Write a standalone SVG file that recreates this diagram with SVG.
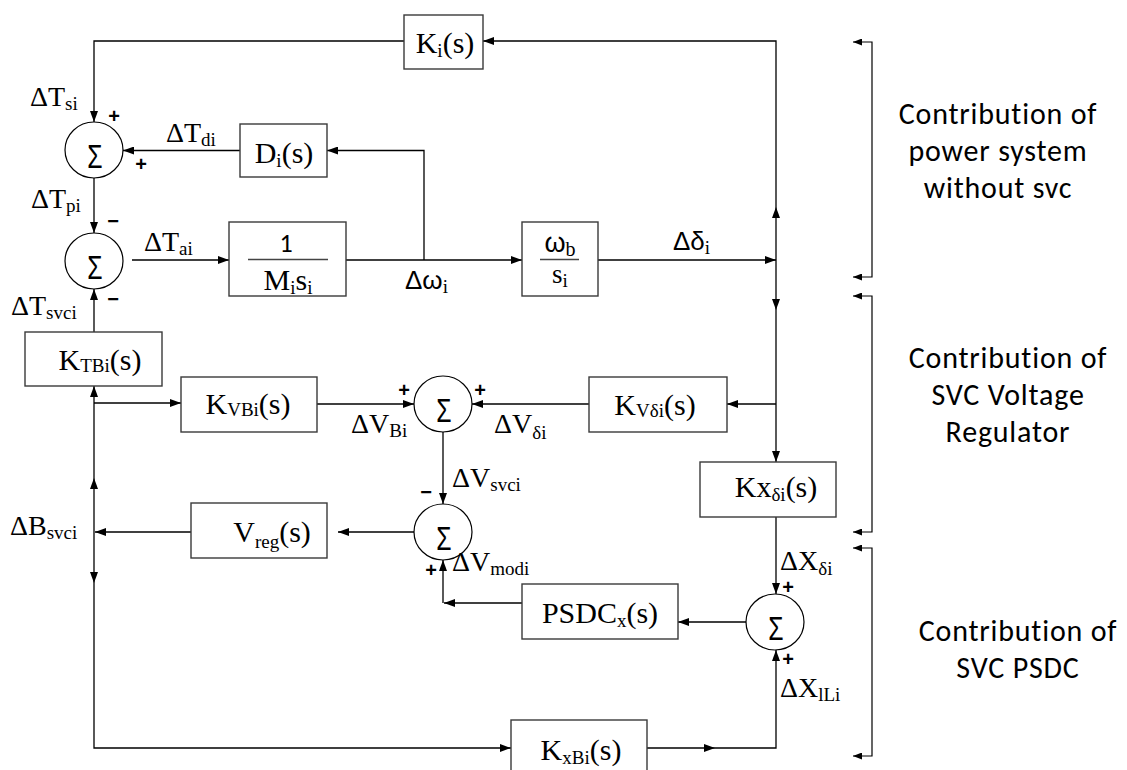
<svg xmlns="http://www.w3.org/2000/svg" width="1127" height="770" viewBox="0 0 1127 770">
<defs>
<marker id="arr" markerUnits="userSpaceOnUse" markerWidth="11" markerHeight="8" refX="11" refY="4" orient="auto"><path d="M0,0 L11,4 L0,8 z" fill="#000"/></marker>
<marker id="arrs" markerUnits="userSpaceOnUse" markerWidth="9" markerHeight="7" refX="9" refY="3.5" orient="auto-start-reverse"><path d="M0,0 L9,3.5 L0,7 z" fill="#000"/></marker>
<style>
.ln{fill:none;stroke:#000;stroke-width:1.3}
.bk{fill:none;stroke:#000;stroke-width:1.2}
.box{fill:#fff;stroke:#3a3a3a;stroke-width:1.4}
.sum{fill:#fff;stroke:#000;stroke-width:1.2}
.sg{font-family:"Liberation Sans",Arial,sans-serif;font-size:33px;text-anchor:middle}
.lb{font-family:"Liberation Serif","Times New Roman",serif;font-size:28px}
.bx{font-family:"Liberation Serif","Times New Roman",serif;font-size:30px;text-anchor:middle}
.gk{font-family:"Liberation Sans",Arial,sans-serif}
.sb{font-size:19px}
.pm{font-family:"Liberation Sans",Arial,sans-serif;font-size:20px;font-weight:bold;text-anchor:middle}
.rt{font-family:Carlito,Lato,"Open Sans",sans-serif;font-size:30px;letter-spacing:0.8px;text-anchor:middle}
</style>
</defs>
<rect width="1127" height="770" fill="#fff"/>
<g id="connectors">
<path class="ln" d="M776,260 V207" marker-end="url(#arr)"/>
<path class="ln" d="M776,207 V41 H483" marker-end="url(#arr)"/>
<path class="ln" d="M776,260 V310" marker-end="url(#arr)"/>
<path class="ln" d="M776,310 V462" marker-end="url(#arr)"/>
<path class="ln" d="M776,404 H727" marker-end="url(#arr)"/>
<path class="ln" d="M404,41 H94 V122" marker-end="url(#arr)"/>
<path class="ln" d="M240,150.5 H123" marker-end="url(#arr)"/>
<path class="ln" d="M424,260 V150.5 H327" marker-end="url(#arr)"/>
<path class="ln" d="M94,178 V233" marker-end="url(#arr)"/>
<path class="ln" d="M132,260 H229" marker-end="url(#arr)"/>
<path class="ln" d="M346,260 H522" marker-end="url(#arr)"/>
<path class="ln" d="M598,260 H776" marker-end="url(#arr)"/>
<path class="ln" d="M94,332 V289" marker-end="url(#arr)"/>
<path class="ln" d="M94,532 V478" marker-end="url(#arr)"/>
<path class="ln" d="M94,478 V386" marker-end="url(#arr)"/>
<path class="ln" d="M94,532 V583" marker-end="url(#arr)"/>
<path class="ln" d="M94,583 V748 H511" marker-end="url(#arr)"/>
<path class="ln" d="M94,403 H181" marker-end="url(#arr)"/>
<path class="ln" d="M317,404 H414" marker-end="url(#arr)"/>
<path class="ln" d="M589,404 H472" marker-end="url(#arr)"/>
<path class="ln" d="M443,432 V504" marker-end="url(#arr)"/>
<path class="ln" d="M414,532 H338" marker-end="url(#arr)"/>
<path class="ln" d="M191,532 H95" marker-end="url(#arr)"/>
<path class="ln" d="M522,603 H444" marker-end="url(#arr)"/>
<path class="ln" d="M443,603 V560" marker-end="url(#arr)"/>
<path class="ln" d="M755,622 H678" marker-end="url(#arr)"/>
<path class="ln" d="M776,517 V594" marker-end="url(#arr)"/>
<path class="ln" d="M637,748 H715" marker-end="url(#arr)"/>
<path class="ln" d="M715,748 H776 V650" marker-end="url(#arr)"/>
</g>
<g id="sum1"><ellipse class="sum" cx="94" cy="150" rx="29" ry="28"/><text class="sg" transform="translate(95,168) scale(0.75,1)">Σ</text></g>
<g id="sum2"><ellipse class="sum" cx="94" cy="261" rx="29" ry="28"/><text class="sg" transform="translate(95,279) scale(0.75,1)">Σ</text></g>
<g id="sum3"><ellipse class="sum" cx="443" cy="404" rx="29" ry="28"/><text class="sg" transform="translate(444,422) scale(0.75,1)">Σ</text></g>
<g id="sum4"><ellipse class="sum" cx="443" cy="532" rx="29" ry="28"/><text class="sg" transform="translate(444,550) scale(0.75,1)">Σ</text></g>
<g id="sum5"><ellipse class="sum" cx="775" cy="622" rx="29" ry="28"/><text class="sg" transform="translate(776,640) scale(0.75,1)">Σ</text></g>
<g id="Ki"><rect class="box" x="404" y="15" width="79" height="54"/><text class="bx" x="445" y="53" font-size="31">K<tspan class="sb" dy="4">i</tspan><tspan dy="-4">(s)</tspan></text></g>
<g id="Di"><rect class="box" x="240" y="124" width="87" height="53"/><text class="bx" x="284" y="163">D<tspan class="sb" dy="4">i</tspan><tspan dy="-4">(s)</tspan></text></g>
<g id="Mi"><rect class="box" x="229" y="222" width="117" height="74"/><text x="286" y="252" font-family="Carlito,Lato,sans-serif" font-size="26" text-anchor="middle">1</text><line x1="248" y1="259.5" x2="328" y2="259.5" stroke="#444" stroke-width="1.3"/><text class="bx" x="288" y="290" font-size="27">M<tspan class="sb" dy="4" font-size="18">i</tspan><tspan dy="-4">s</tspan><tspan class="sb" dy="4" font-size="18">i</tspan></text></g>
<g id="Wb"><rect class="box" x="522" y="222" width="76" height="74"/><text x="560" y="252" font-size="27" text-anchor="middle"><tspan class="gk">ω</tspan><tspan dy="4" font-family="Liberation Serif,serif" font-size="20">b</tspan></text><line x1="540" y1="259.5" x2="579" y2="259.5" stroke="#444" stroke-width="1.3"/><text x="560" y="283" font-family="Liberation Serif,serif" font-size="27" text-anchor="middle">s<tspan dy="4" font-size="19">i</tspan></text></g>
<g id="KTBi"><rect class="box" x="25" y="332" width="137" height="54"/><text class="bx" x="100" y="370">K<tspan class="sb" dy="2">TBi</tspan><tspan dy="-2">(s)</tspan></text></g>
<g id="KVBi"><rect class="box" x="181" y="377" width="136" height="55"/><text class="bx" x="248" y="414">K<tspan class="sb" dy="2">VBi</tspan><tspan dy="-2">(s)</tspan></text></g>
<g id="KVdi"><rect class="box" x="589" y="377" width="138" height="55"/><text class="bx" x="655" y="415">K<tspan class="sb" dy="2">Vδi</tspan><tspan dy="-2">(s)</tspan></text></g>
<g id="Kxdi"><rect class="box" x="700" y="462" width="136" height="55"/><text class="bx" x="776" y="497">Kx<tspan class="sb" dy="4">δi</tspan><tspan dy="-4">(s)</tspan></text></g>
<g id="Vreg"><rect class="box" x="191" y="503" width="136" height="55"/><text class="bx" x="272" y="542">V<tspan class="sb" dy="6">reg</tspan><tspan dy="-6">(s)</tspan></text></g>
<g id="PSDC"><rect class="box" x="522" y="584" width="156" height="55"/><text class="bx" x="600" y="623">PSDC<tspan class="sb" dy="4">x</tspan><tspan dy="-4">(s)</tspan></text></g>
<g id="KxBi"><rect class="box" x="511" y="720" width="136" height="62"/><text class="bx" x="581" y="760">K<tspan class="sb" dy="4">xBi</tspan><tspan dy="-4">(s)</tspan></text></g>
<g id="labels">
<text class="lb" x="30" y="106">ΔT<tspan class="sb" dy="4">si</tspan></text>
<text class="lb" x="166" y="142">ΔT<tspan class="sb" dy="4">di</tspan></text>
<text class="lb" x="31" y="208">ΔT<tspan class="sb" dy="4">pi</tspan></text>
<text class="lb" x="144" y="251">ΔT<tspan class="sb" dy="4">ai</tspan></text>
<text class="lb" x="11" y="315">ΔT<tspan class="sb" dy="4">svci</tspan></text>
<text class="lb" x="405" y="289"><tspan class="gk" font-size="26">Δω</tspan><tspan class="sb" dy="4">i</tspan></text>
<text class="lb" x="673" y="250"><tspan class="gk" font-size="26">Δδ</tspan><tspan class="sb" dy="4">i</tspan></text>
<text class="lb" x="351" y="433">ΔV<tspan class="sb" dy="4">Bi</tspan></text>
<text class="lb" x="494" y="433">ΔV<tspan class="sb" dy="6">δi</tspan></text>
<text class="lb" x="452" y="487">ΔV<tspan class="sb" dy="4">svci</tspan></text>
<text class="lb" x="10" y="535">ΔB<tspan class="sb" dy="4">svci</tspan></text>
<text class="lb" x="452" y="571">ΔV<tspan class="sb" dy="4">modi</tspan></text>
<text class="lb" x="780" y="570">ΔX<tspan class="sb" dy="5">δi</tspan></text>
<text class="lb" x="780" y="697">ΔX<tspan class="sb" dy="4">lLi</tspan></text>
<text class="pm" x="114" y="123">+</text>
<text class="pm" x="141" y="171">+</text>
<text class="pm" x="113" y="228">−</text>
<text class="pm" x="113" y="306">−</text>
<text class="pm" x="404" y="397">+</text>
<text class="pm" x="480" y="397">+</text>
<text class="pm" x="426" y="499">−</text>
<text class="pm" x="431" y="577">+</text>
<text class="pm" x="788" y="594">+</text>
<text class="pm" x="788" y="666">+</text>
</g>
<g id="brackets">
<path class="bk" d="M853,42 H872 V277 H853" marker-start="url(#arrs)" marker-end="url(#arrs)"/>
<path class="bk" d="M853,296 H872 V532 H853" marker-start="url(#arrs)" marker-end="url(#arrs)"/>
<path class="bk" d="M853,548 H872 V756 H853" marker-start="url(#arrs)" marker-end="url(#arrs)"/>
</g>
<g id="notes">
<text class="rt" x="998" y="124">Contribution of</text>
<text class="rt" x="998" y="161">power system</text>
<text class="rt" x="998" y="198">without svc</text>
<text class="rt" x="1008" y="368">Contribution of</text>
<text class="rt" x="1008" y="405">SVC Voltage</text>
<text class="rt" x="1008" y="442">Regulator</text>
<text class="rt" x="1018" y="641">Contribution of</text>
<text class="rt" x="1018" y="678">SVC PSDC</text>
</g>
</svg>
